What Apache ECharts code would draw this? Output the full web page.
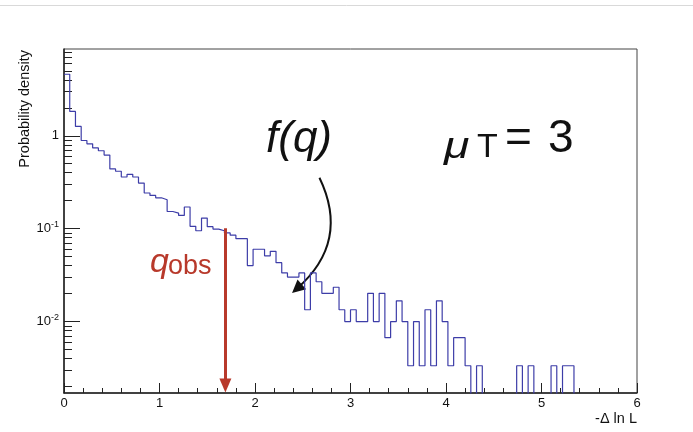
<!DOCTYPE html>
<html>
<head>
<meta charset="utf-8">
<title>f(q) for muT = 3</title>
<script src="https://cdn.jsdelivr.net/npm/echarts@6.0.0/dist/echarts.min.js"></script>
<style>
  html, body { margin: 0; padding: 0; background: #fff; }
  #chart { width: 693px; height: 432px; }
</style>
</head>
<body>
<div id="chart"></div>
<script>
// histogram of -Δ ln L : 100 bins of 0.06 from 0 to 6 (probability density)
const binWidth = 0.06
const density = [
  4.6, 1.83, 1.26, 0.89, 0.82, 0.74, 0.69, 0.62, 0.44, 0.415,
  0.36, 0.385, 0.36, 0.31, 0.242, 0.228, 0.215, 0.205, 0.153, 0.147,
  0.139, 0.171, 0.106, 0.095, 0.130, 0.105, 0.099, 0.095, 0.090, 0.085,
  0.078, 0.078, 0.040, 0.060, 0.060, 0.051, 0.057, 0.043, 0.0334, 0.0301,
  0.0301, 0.0334, 0.0134, 0.0334, 0.0268, 0.0201, 0.0201, 0.0234, 0.0134, 0.0100,
  0.0134, 0.0100, 0.0100, 0.0201, 0.0100, 0.0201, 0.0067, 0.0100, 0.0167, 0.0100,
  0.00334, 0.0100, 0.00334, 0.0134, 0.00334, 0.0167, 0.0100, 0.00334, 0.0067, 0.0067,
  0.00334, 0, 0.00334, 0, 0, 0, 0, 0, 0, 0.00334,
  0, 0.00334, 0, 0, 0, 0.00334, 0, 0.00334, 0.00334, 0,
  0, 0, 0, 0, 0, 0, 0, 0, 0, 0
]
const yMajorTicks = [0.01, 0.1, 1]
const yMinorTicks = [
  0.002, 0.003, 0.004, 0.005, 0.006, 0.007, 0.008, 0.009,
  0.02, 0.03, 0.04, 0.05, 0.06, 0.07, 0.08, 0.09,
  0.2, 0.3, 0.4, 0.5, 0.6, 0.7, 0.8, 0.9,
  2, 3, 4, 5, 6, 7, 8
]
const yMin = 0.0017
const yMax = 8.6
// observed value and the annotation arrows (data coordinates)
const qObs = 1.69
const qObsTop = 0.101
const fArrowFrom = [2.675, 0.353]
const fArrowTo = [2.439, 0.0226]

const FONT = '"Liberation Sans", Arial, Helvetica, sans-serif'
const RED = '#b8392b'
const BLUE = '#3d3da8'
const emptyFloor = 0.001 // empty bins are drawn down to the frame, like ROOT

const histData = density.map((v, i) => [+(i * binWidth).toFixed(2), v > 0 ? v : emptyFloor])
histData.push([6, density[density.length - 1] > 0 ? density[density.length - 1] : emptyFloor])

function logLabel(v) {
  if (Math.abs(v - 1) < 1e-9) return '{b|1}'
  return '{b|10}{s|' + Math.round(Math.log10(v)) + '}'
}

function txt(x, y, text, font, color, extra) {
  return Object.assign({
    type: 'text', silent: true, x: x, y: y,
    style: { text: text, font: font, fill: color || '#111', align: 'left', verticalAlign: 'middle' }
  }, extra || {})
}

const chart = echarts.init(document.getElementById('chart'))
chart.setOption({
  animation: false,
  backgroundColor: '#fff',
  grid: {
    left: 64, right: 56, top: 49, bottom: 39,
    show: true, borderColor: '#444', borderWidth: 1
  },
  xAxis: {
    type: 'value', min: 0, max: 6, interval: 1,
    axisLine: { show: true, onZero: false, lineStyle: { color: '#222', width: 1.5 } },
    axisTick: { show: true, inside: true, length: 10, lineStyle: { color: '#222', width: 1 } },
    minorTick: { show: true, splitNumber: 5, length: 5, lineStyle: { color: '#222', width: 1 } },
    axisLabel: { margin: 4, color: '#111', fontSize: 13, fontFamily: FONT },
    splitLine: { show: false }
  },
  yAxis: [{
    type: 'log', min: yMin, max: yMax, position: 'left',
    axisLine: { show: true, lineStyle: { color: '#222', width: 1.5 } },
    axisTick: { show: true, inside: true, length: 16, customValues: yMajorTicks, lineStyle: { color: '#222', width: 1 } },
    axisLabel: {
      customValues: yMajorTicks, formatter: logLabel, margin: 5,
      rich: {
        b: { fontSize: 13, fontFamily: FONT, color: '#111', lineHeight: 18 },
        s: { fontSize: 9, fontFamily: FONT, color: '#111', lineHeight: 10, verticalAlign: 'top' }
      }
    },
    splitLine: { show: false }
  }, {
    type: 'log', min: yMin, max: yMax, position: 'left',
    axisLine: { show: false },
    axisTick: { show: true, inside: true, length: 8, customValues: yMinorTicks, lineStyle: { color: '#222', width: 1 } },
    axisLabel: { show: false },
    splitLine: { show: false }
  }],
  series: [{
    type: 'line',
    step: 'end',
    data: histData,
    showSymbol: false,
    clip: true,
    lineStyle: { color: BLUE, width: 1.2 },
    silent: true,
    markLine: {
      silent: true,
      animation: false,
      symbol: ['none', 'triangle'],
      symbolSize: [12, 14],
      label: { show: false },
      emphasis: { disabled: true },
      lineStyle: { color: RED, width: 3, type: 'solid' },
      data: [[{ coord: [qObs, qObsTop] }, { coord: [qObs, 0.00205] }]]
    }
  }, {
    // curved arrow pointing at f(q)
    type: 'lines',
    coordinateSystem: 'cartesian2d',
    xAxisIndex: 0,
    yAxisIndex: 0,
    silent: true,
    symbol: ['none', 'triangle'],
    symbolSize: [11, 13],
    lineStyle: { color: '#111', width: 2, opacity: 1, curveness: 0.38 },
    data: [{ coords: [fArrowFrom, fArrowTo] }]
  }],
  graphic: [
    { type: 'line', silent: true, shape: { x1: 0, y1: 5.5, x2: 693, y2: 5.5 }, style: { stroke: '#d9d9d9', lineWidth: 1 } },
    txt(25, 50, '', '', '', { rotation: Math.PI / 2, style: { text: 'Probability density', font: '14.5px ' + FONT, fill: '#111', align: 'right', verticalAlign: 'middle' } }),
    txt(637, 419, '', '', '', { style: { text: '-Δ ln L', font: '14.5px ' + FONT, fill: '#111', align: 'right', verticalAlign: 'middle' } }),
    txt(266, 140, 'f(q)', 'italic 44px ' + FONT),
    txt(444, 148, 'μ', 'italic 37px ' + FONT, '#111', { scaleX: 1.25 }),
    txt(477, 148, 'T', '34px ' + FONT),
    txt(505, 139, '=', '46px ' + FONT),
    txt(548, 139, '3', '46px ' + FONT),
    txt(150, 263, 'q', 'italic 34px ' + FONT, RED),
    txt(168, 267, 'obs', '27px ' + FONT, RED)
  ]
})
</script>
</body>
</html>
